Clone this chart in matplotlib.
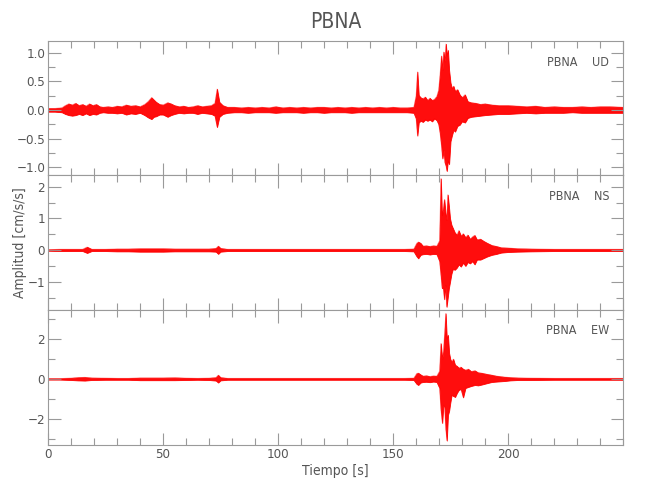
import matplotlib
matplotlib.use("Agg")
import matplotlib.pyplot as plt
from matplotlib.ticker import MultipleLocator, FuncFormatter

# ---------------- data (envelope of each record) -------------
UD_T = [0, 3, 6, 7.5, 9, 10.5, 12, 13.5, 15, 16.5,
        18, 19.5, 21, 22.5, 24, 26, 28, 30, 32, 34,
        36, 38, 40, 42, 43.5, 45, 46, 47, 48.5, 50,
        52, 53.5, 55, 57, 59, 61, 63, 65, 67, 69,
        71, 72.5, 73.5, 74.5, 76, 78, 81, 84, 87, 90,
        93, 96, 99, 102, 105, 108, 111, 114, 117, 120,
        123, 126, 129, 132, 135, 138, 141, 144, 147, 150,
        153, 156, 159, 160, 160.6, 161.2, 162, 163, 164, 165,
        166, 167, 168, 169, 169.8, 170.4, 171.0, 171.5, 172.0, 172.5,
        173.0, 173.4, 173.9, 174.4, 175.0, 175.6, 176.3, 177.0, 178.0, 179.0,
        180.0, 181.3, 182.5, 184, 186, 188, 190, 193, 196, 200,
        204, 208, 212, 216, 220, 224, 228, 232, 236, 240,
        244, 250]
UD_HI = [0.03, 0.03, 0.04, 0.08, 0.11, 0.09, 0.12, 0.08, 0.10, 0.07,
         0.11, 0.08, 0.10, 0.06, 0.05, 0.06, 0.05, 0.07, 0.06, 0.09,
         0.07, 0.08, 0.06, 0.10, 0.15, 0.22, 0.18, 0.14, 0.10, 0.09,
         0.13, 0.11, 0.08, 0.06, 0.07, 0.05, 0.06, 0.08, 0.06, 0.07,
         0.08, 0.12, 0.37, 0.14, 0.08, 0.05, 0.05, 0.04, 0.05, 0.04,
         0.05, 0.04, 0.06, 0.04, 0.05, 0.04, 0.05, 0.04, 0.05, 0.05,
         0.04, 0.05, 0.04, 0.05, 0.04, 0.05, 0.04, 0.05, 0.04, 0.05,
         0.04, 0.04, 0.05, 0.25, 0.67, 0.26, 0.22, 0.20, 0.23, 0.17,
         0.21, 0.17, 0.19, 0.24, 0.35, 0.62, 0.95, 0.70, 1.02, 0.85,
         1.16, 0.95, 1.05, 0.70, 0.48, 0.38, 0.42, 0.33, 0.36, 0.27,
         0.22, 0.27, 0.15, 0.13, 0.12, 0.10, 0.11, 0.09, 0.08, 0.08,
         0.07, 0.06, 0.07, 0.05, 0.06, 0.05, 0.05, 0.06, 0.05, 0.06,
         0.06, 0.05]
UD_LO = [-0.03, -0.03, -0.04, -0.07, -0.09, -0.10, -0.09, -0.07, -0.09, -0.06,
         -0.09, -0.07, -0.08, -0.05, -0.04, -0.05, -0.05, -0.06, -0.05, -0.08,
         -0.06, -0.07, -0.05, -0.09, -0.13, -0.16, -0.12, -0.11, -0.08, -0.08,
         -0.12, -0.09, -0.07, -0.05, -0.06, -0.05, -0.05, -0.07, -0.05, -0.06,
         -0.07, -0.10, -0.30, -0.12, -0.07, -0.05, -0.04, -0.04, -0.05, -0.04,
         -0.04, -0.04, -0.05, -0.04, -0.04, -0.04, -0.05, -0.04, -0.04, -0.05,
         -0.04, -0.04, -0.04, -0.05, -0.04, -0.04, -0.04, -0.04, -0.04, -0.04,
         -0.04, -0.04, -0.05, -0.15, -0.45, -0.22, -0.19, -0.21, -0.17, -0.19,
         -0.17, -0.20, -0.15, -0.18, -0.25, -0.40, -0.62, -0.85, -0.70, -0.92,
         -0.98, -1.07, -0.88, -0.95, -0.55, -0.45, -0.35, -0.38, -0.28, -0.26,
         -0.20, -0.22, -0.14, -0.12, -0.11, -0.10, -0.09, -0.08, -0.07, -0.07,
         -0.06, -0.05, -0.06, -0.05, -0.05, -0.05, -0.04, -0.05, -0.05, -0.05,
         -0.05, -0.05]

NS_T = [0, 5, 10, 15, 17, 19, 25, 30, 35, 40,
        45, 50, 55, 60, 65, 70, 73, 74, 75, 78,
        85, 95, 105, 115, 125, 135, 145, 155, 159, 160.3,
        161, 162, 163, 164.5, 166, 167.5, 169, 170.2, 170.8, 171.3,
        171.8, 172.3, 172.8, 173.3, 173.8, 174.3, 174.8, 175.4, 176.0, 176.9,
        177.8, 178.6, 179.5, 180.5, 181.5, 182.5, 183.5, 184.5, 185.5, 186.5,
        188, 189.5, 191, 193, 195, 197, 200, 204, 210, 220,
        230, 240, 250]
NS_HI = [0.02, 0.03, 0.03, 0.03, 0.10, 0.03, 0.03, 0.04, 0.04, 0.05,
         0.05, 0.05, 0.04, 0.04, 0.04, 0.04, 0.06, 0.13, 0.06, 0.03,
         0.03, 0.03, 0.03, 0.03, 0.03, 0.03, 0.03, 0.03, 0.04, 0.22,
         0.26, 0.22, 0.13, 0.14, 0.12, 0.14, 0.13, 0.30, 2.26, 1.10,
         1.30, 1.60, 1.20, 0.95, 1.75, 1.40, 1.00, 0.80, 0.70, 0.55,
         0.48, 0.62, 0.45, 0.52, 0.40, 0.48, 0.35, 0.42, 0.47, 0.33,
         0.35, 0.28, 0.22, 0.15, 0.12, 0.08, 0.07, 0.05, 0.04, 0.03,
         0.03, 0.03, 0.03]
NS_LO = [-0.02, -0.03, -0.03, -0.03, -0.09, -0.03, -0.03, -0.04, -0.04, -0.05,
         -0.05, -0.05, -0.04, -0.04, -0.04, -0.04, -0.05, -0.12, -0.05, -0.03,
         -0.03, -0.03, -0.03, -0.03, -0.03, -0.03, -0.03, -0.03, -0.04, -0.20,
         -0.26, -0.15, -0.13, -0.12, -0.14, -0.12, -0.13, -0.35, -0.80, -1.20,
         -1.20, -1.55, -1.10, -1.79, -1.50, -1.20, -1.00, -0.75, -0.60, -0.62,
         -0.55, -0.45, -0.52, -0.40, -0.50, -0.38, -0.42, -0.35, -0.45, -0.30,
         -0.30, -0.25, -0.20, -0.15, -0.12, -0.08, -0.06, -0.05, -0.04, -0.03,
         -0.03, -0.03, -0.03]

EW_T = [0, 5, 10, 13, 16, 19, 25, 30, 35, 40,
        45, 50, 55, 60, 65, 70, 73, 74, 75, 78,
        85, 95, 105, 115, 125, 135, 145, 155, 159, 160.3,
        161, 162, 163, 164.5, 166, 167.5, 169, 170.2, 170.8, 171.4,
        171.9, 172.4, 172.9, 173.4, 173.9, 174.4, 174.9, 175.5, 176.2, 177.0,
        177.8, 178.6, 179.5, 180.5, 181.5, 182.7, 184, 185.6, 187, 188.5,
        190.5, 192.9, 195, 198.6, 201, 204.4, 210, 220, 230, 240,
        250]
EW_HI = [0.03, 0.03, 0.05, 0.08, 0.09, 0.06, 0.05, 0.04, 0.04, 0.06,
         0.06, 0.06, 0.07, 0.05, 0.04, 0.05, 0.08, 0.20, 0.08, 0.04,
         0.04, 0.04, 0.04, 0.04, 0.04, 0.04, 0.04, 0.04, 0.05, 0.28,
         0.30, 0.22, 0.15, 0.17, 0.13, 0.16, 0.15, 0.40, 1.78, 1.00,
         1.40, 2.30, 3.28, 2.00, 2.20, 1.30, 1.00, 0.85, 1.00, 0.70,
         0.65, 0.55, 0.60, 0.50, 0.45, 0.50, 0.38, 0.42, 0.32, 0.30,
         0.25, 0.20, 0.15, 0.10, 0.08, 0.06, 0.05, 0.04, 0.04, 0.04,
         0.04]
EW_LO = [-0.03, -0.03, -0.05, -0.07, -0.08, -0.05, -0.04, -0.04, -0.04, -0.06,
         -0.06, -0.06, -0.06, -0.05, -0.04, -0.05, -0.08, -0.18, -0.07, -0.04,
         -0.04, -0.04, -0.04, -0.04, -0.04, -0.04, -0.04, -0.04, -0.05, -0.25,
         -0.30, -0.18, -0.15, -0.14, -0.16, -0.13, -0.15, -0.45, -1.55, -2.20,
         -1.30, -1.40, -2.50, -3.08, -1.80, -1.60, -1.20, -0.80, -0.85, -0.90,
         -0.70, -0.55, -0.50, -0.92, -0.45, -0.40, -0.35, -0.30, -0.32, -0.28,
         -0.22, -0.15, -0.13, -0.10, -0.07, -0.05, -0.05, -0.04, -0.04, -0.04,
         -0.04]

CHANNELS = ["UD", "NS", "EW"]
STATION = "PBNA"
X_LABEL = "Tiempo [s]"
Y_LABEL = "Amplitud [cm/s/s]"
X_MAJOR_TICKS = [0, 50, 100, 150, 200]

# ---------------- styling ----------------------------------------------------------
TRACE = "#ff0000"
FRAME = "#9a9a9a"
TEXT = "#555555"
plt.rcParams["font.family"] = ["DejaVu Sans"]
plt.rcParams["font.stretch"] = "condensed"

fig = plt.figure(figsize=(6.5, 5.0), dpi=100)
left, right = 48 / 650, 623 / 650
edges = [41, 175, 310, 445]
ylims = [(-1.14, 1.21), (-1.89, 2.37), (-3.30, 3.45)]
ymaj = [0.5, 1.0, 2.0]
ymin = [0.25, 0.5, 1.0]
fmts = [lambda v, p: f"{v:.1f}".replace("-", "\u2212"),
        lambda v, p: f"{v:.0f}".replace("-", "\u2212"),
        lambda v, p: f"{v:.0f}".replace("-", "\u2212")]
data = [(UD_T, UD_HI, UD_LO), (NS_T, NS_HI, NS_LO), (EW_T, EW_HI, EW_LO)]

axes = []
for i in range(3):
    top, bot = edges[i], edges[i + 1]
    ax = fig.add_axes([left, 1 - bot / 500, right - left, (bot - top) / 500])
    t, hi, lo = data[i]
    ax.fill_between(t, lo, hi, color=TRACE, lw=0.6, alpha=0.95)
    ax.plot(t, hi, color=TRACE, lw=0.4, alpha=0.5)
    ax.plot(t, lo, color=TRACE, lw=0.4, alpha=0.5)
    ax.set_xlim(0, 250)
    ax.set_ylim(*ylims[i])
    ax.xaxis.set_major_locator(MultipleLocator(50))
    ax.xaxis.set_minor_locator(MultipleLocator(10))
    ax.yaxis.set_major_locator(MultipleLocator(ymaj[i]))
    ax.yaxis.set_minor_locator(MultipleLocator(ymin[i]))
    ax.yaxis.set_major_formatter(FuncFormatter(fmts[i]))
    ax.tick_params(which="both", direction="in", top=True, right=True,
                   color=FRAME, labelcolor=TEXT, labelsize=9.5, width=0.8)
    ax.tick_params(which="major", length=9, pad=2)
    ax.tick_params(which="minor", length=5)
    for s in ax.spines.values():
        s.set_color(FRAME)
        s.set_linewidth(0.8)
    if i < 2:
        ax.tick_params(labelbottom=False)
    ax.text(0.976, 1 - 21 / (bot - top), f"{STATION}    {CHANNELS[i]}",
            transform=ax.transAxes, ha="right", va="center",
            color=TEXT, fontsize=9)
    axes.append(ax)

axes[2].set_xticks(X_MAJOR_TICKS)
axes[2].set_xlabel(X_LABEL, color=TEXT, fontsize=10, labelpad=2)
fig.text(20 / 650, 1 - 243 / 500, Y_LABEL, rotation=90, ha="center", va="center",
         color=TEXT, fontsize=10)
fig.text((left + right) / 2, 1 - 22 / 500, STATION, ha="center", va="center",
         color=TEXT, fontsize=15)

fig.savefig("out.png", dpi=100)
